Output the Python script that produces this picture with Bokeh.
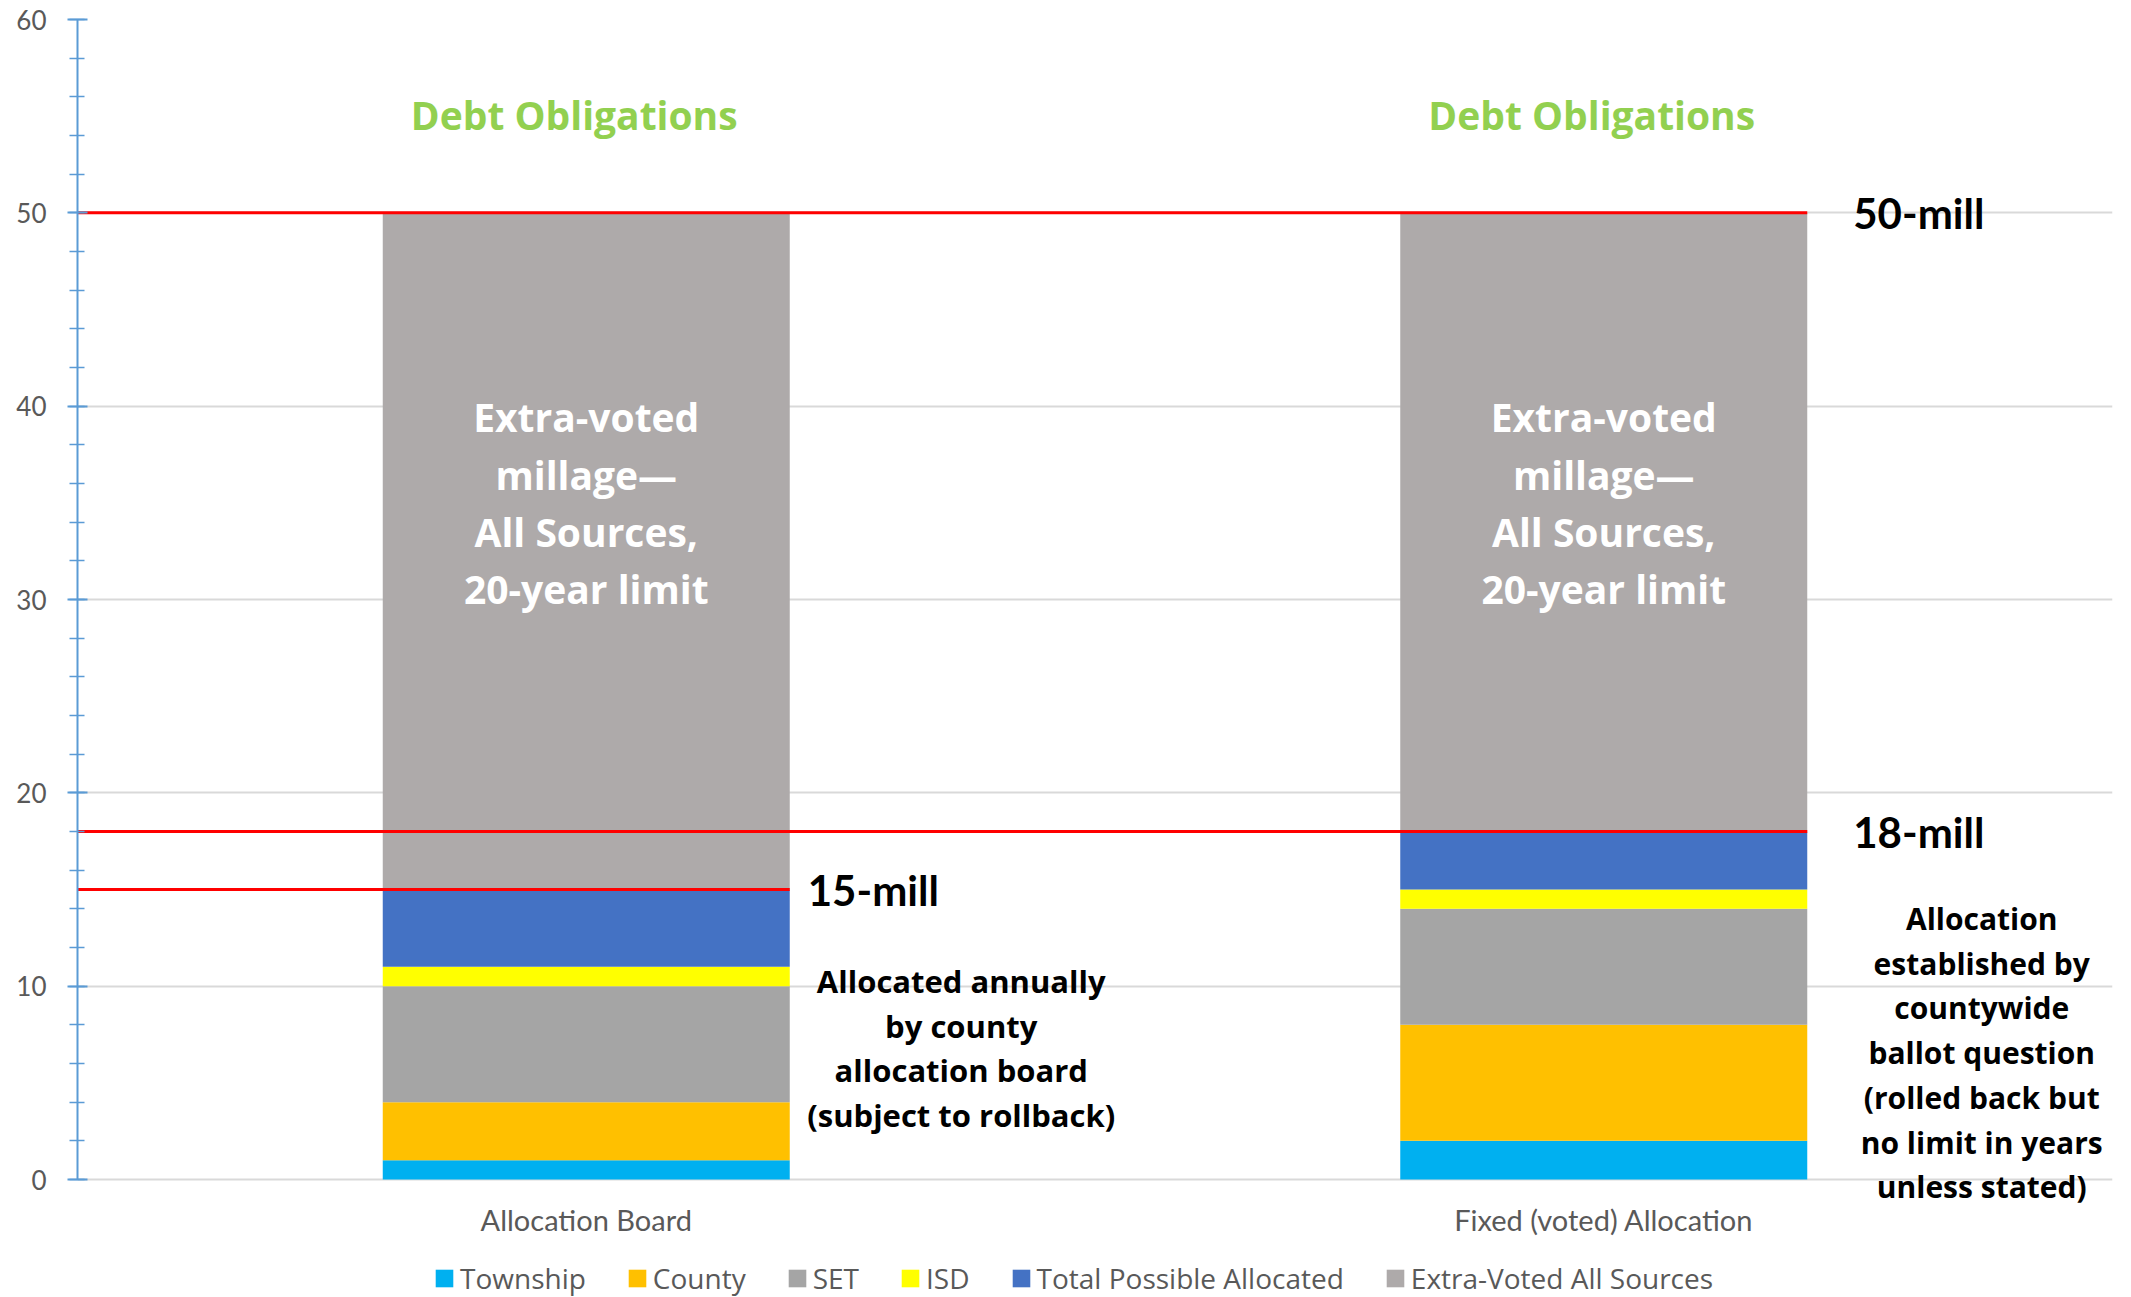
from bokeh.plotting import figure
from bokeh.models import ColumnDataSource, FactorRange, Range1d, SingleIntervalTicker
from bokeh.core.properties import value
from bokeh.embed import file_html
from bokeh.resources import INLINE

# ---------------- data ----------------
categories = ["Allocation Board", "Fixed (voted) Allocation"]
series = ["Township", "County", "SET", "ISD", "Total Possible Allocated", "Extra-Voted All Sources"]
township = [1, 2]
county = [3, 6]
set_values = [6, 6]
isd = [1, 1]
total_possible = [4, 3]
extra_voted = [35, 32]
colors = ["#00B0F0", "#FFC000", "#A5A5A5", "#FFFF00", "#4472C4", "#AEAAAA"]

limit_values = [50, 18, 15]
limit_labels = ["50-mill", "18-mill", "15-mill"]
limit_bar = [1, 1, 0]          # bar to which each limit line extends

top_title = "Debt Obligations"
bar_note = "Extra-voted\nmillage\u2014\nAll Sources,\n20-year limit"
left_note = "Allocated annually\nby county\nallocation board\n(subject to rollback)"
right_note = "Allocation\nestablished by\ncountywide\nballot question\n(rolled back but\nno limit in years\nunless stated)"

# ---------------- layout / style ----------------
W, H = 2131, 1297
LEFT, RIGHT, TOP = 77, 19, 19
PX_PER_UNIT = (1179 - 19) / 60.0
Y_MIN = -(H - 1179) / PX_PER_UNIT          # frame runs to the canvas bottom
BAR_W = 0.4
FONT = "Lato"
BFONT = "Open Sans"
limit_dx = [46, 46, 18]
cat_label_y = -40 / PX_PER_UNIT

p = figure(width=W, height=H,
           x_range=FactorRange(*categories), y_range=Range1d(Y_MIN, 60),
           x_axis_location=None,
           output_backend="svg", toolbar_location=None,
           min_border_left=LEFT, min_border_right=RIGHT, min_border_top=TOP, min_border_bottom=0)
p.outline_line_color = None
p.background_fill_color = "white"

src = ColumnDataSource(dict(cat=categories, Township=township, County=county, SET=set_values,
                            ISD=isd, **{"Total Possible Allocated": total_possible,
                                        "Extra-Voted All Sources": extra_voted}))
p.vbar_stack(series, x="cat", width=BAR_W, fill_color=colors, line_color=None,
             source=src, legend_label=series)

# limit lines
cat_idx = [b + 0.5 for b in limit_bar]
seg = ColumnDataSource(dict(y=limit_values, x0=[0.0] * len(limit_values),
                            x1=[c + BAR_W / 2 for c in cat_idx], dx=limit_dx, txt=limit_labels))
p.segment(x0="x0", y0="y", x1="x1", y1="y", source=seg, line_color="#FF0000", line_width=3)
p.text(x="x1", y="y", text="txt", x_offset="dx", source=seg, text_font=value(FONT),
       text_font_style="bold", text_font_size="42px", text_color="black",
       text_align="left", text_baseline="middle")

# category labels (x axis)
p.text(x=categories, y=[cat_label_y] * len(categories), text=categories,
       text_font=value(FONT), text_font_size="29px", text_color="#595959",
       text_align="center", text_baseline="middle")

# titles above bars
p.text(x=categories, y=[55.1, 55.1], text=[top_title, top_title], x_offset=-12,
       text_font=value(BFONT), text_font_style="bold", text_font_size="39px",
       text_color="#92D050", text_align="center", text_baseline="middle")

# text inside bars
p.text(x=categories, y=[35, 35], text=[bar_note, bar_note],
       text_font=value(BFONT), text_font_style="bold", text_font_size="39px",
       text_color="white", text_align="center", text_baseline="middle", text_line_height=1.08)

# side notes
p.text(x=[categories[0]], y=[6.8], text=[left_note], x_offset=375,
       text_font=value(BFONT), text_font_style="bold", text_font_size="31px",
       text_color="black", text_align="center", text_baseline="middle", text_line_height=1.066)
p.text(x=[categories[1]], y=[6.56], text=[right_note], x_offset=378,
       text_font=value(BFONT), text_font_style="bold", text_font_size="30px",
       text_color="black", text_align="center", text_baseline="middle", text_line_height=1.09)

# y axis
p.yaxis.bounds = (0, 60)
p.yaxis.ticker = SingleIntervalTicker(interval=10, num_minor_ticks=5)
p.yaxis.axis_line_color = "#5B9BD5"
p.yaxis.axis_line_width = 2
p.yaxis.major_tick_line_color = "#5B9BD5"
p.yaxis.major_tick_line_width = 2
p.yaxis.major_tick_in = 10
p.yaxis.major_tick_out = 10
p.yaxis.minor_tick_line_color = "#5B9BD5"
p.yaxis.minor_tick_line_width = 1.5
p.yaxis.minor_tick_in = 7
p.yaxis.minor_tick_out = 8
p.yaxis.major_label_standoff = 21
p.yaxis.major_label_text_font = FONT
p.yaxis.major_label_text_font_size = "26px"
p.yaxis.major_label_text_color = "#595959"

p.ygrid.grid_line_color = "#D9D9D9"
p.ygrid.grid_line_width = 2
p.xgrid.grid_line_color = None

# legend
lg = p.legend[0]
lg.orientation = "horizontal"
lg.location = (356, 0)
lg.padding = 0
lg.margin = 0
lg.border_line_color = None
lg.background_fill_alpha = 0
lg.glyph_width = 22
lg.glyph_height = 22
lg.label_standoff = 5
lg.spacing = 40
lg.label_text_font = BFONT
lg.label_text_font_size = "28px"
lg.label_text_color = "#595959"

open("out.html", "w").write(file_html(p, INLINE))
